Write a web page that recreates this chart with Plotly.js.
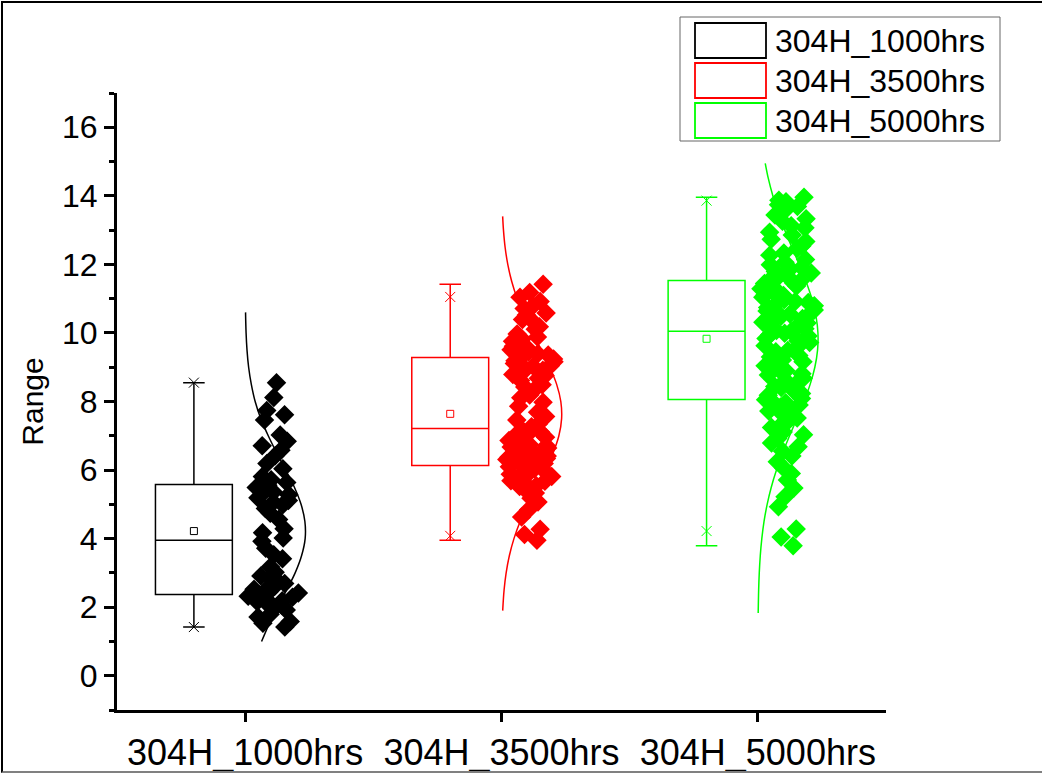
<!DOCTYPE html>
<html>
<head>
<meta charset="utf-8">
<script src="https://cdn.plot.ly/plotly-3.0.1.min.js"></script>
<style>
  html, body { margin: 0; padding: 0; background: #fff; }
  #wrap { position: relative; width: 1042px; height: 776px; }
  #chart { width: 1042px; height: 776px; }
  #frame { position: absolute; left: 1px; top: 1px; width: 1041px; height: 772px;
           border-top: 2px solid #000; border-left: 2px solid #000; border-bottom: 2px solid #808080;
           pointer-events: none; box-sizing: border-box; }
</style>
</head>
<body>
<div id="wrap"><div id="chart"></div><div id="frame"></div></div>
<script>
// ---------------- data ----------------
const categories = ['304H_1000hrs', '304H_3500hrs', '304H_5000hrs'];
const colors = ['#000000', '#FF0000', '#00FF00'];

// box statistics
const q1Values      = [2.37, 6.13, 8.06];
const medianValues  = [3.95, 7.21, 10.05];
const q3Values      = [5.58, 9.28, 11.53];
const minValues     = [1.42, 3.95, 3.79];
const maxValues     = [8.55, 11.42, 13.96];
const meanValues    = [4.22, 7.64, 9.83];
const p1Values      = [1.42, 4.08, 4.22];
const p99Values     = [8.55, 11.05, 13.86];

// raw sample points
const points1000 = [1.42, 1.53, 1.58, 1.71, 1.79, 1.92, 1.98, 2.06, 2.09, 2.16, 2.19, 2.24, 2.29, 2.32, 2.36,
  2.41, 2.44, 2.52, 2.54, 2.61, 2.69, 2.78, 2.86, 2.91, 3.02, 3.18, 3.41, 3.53, 3.72, 3.92,
  4.02, 4.17, 4.29, 4.56, 4.74, 4.88, 4.99, 5.06, 5.11, 5.19, 5.28, 5.36, 5.44, 5.49, 5.56,
  5.64, 5.72, 5.81, 6.04, 6.19, 6.42, 6.58, 6.71, 6.84, 7.02, 7.46, 7.61, 7.74, 8.12, 8.55];
const points3500 = [3.95, 4.12, 4.27, 4.63, 4.84, 5.07, 5.18, 5.33, 5.39, 5.52, 5.54, 5.61, 5.67, 5.69, 5.77, 5.81, 5.86, 5.88, 5.94, 5.97, 6.01, 6.04, 6.07, 6.1, 6.12,
  6.16, 6.19, 6.24, 6.29, 6.31, 6.34, 6.37, 6.41, 6.42, 6.47, 6.51, 6.54, 6.59, 6.64, 6.67, 6.71, 6.74, 6.81, 6.86, 6.89, 6.96, 7.01, 7.04, 7.11, 7.17,
  7.26, 7.34, 7.46, 7.56, 7.69, 7.86, 7.98, 8.11, 8.19, 8.31, 8.42, 8.49, 8.61, 8.68, 8.76, 8.79, 8.86, 8.91, 8.94, 9.02, 9.04, 9.11, 9.16, 9.19, 9.24,
  9.29, 9.36, 9.39, 9.44, 9.51, 9.54, 9.61, 9.64, 9.69, 9.76, 9.82, 9.88, 9.97, 10.11, 10.18, 10.32, 10.39, 10.52, 10.58, 10.71, 10.79, 10.92, 11.04, 11.18, 11.42];
const points5000 = [3.79, 4.05, 4.28, 4.93, 5.22, 5.48, 5.71, 5.9, 6.07, 6.24, 6.41, 6.55, 6.68, 6.79, 6.92, 7.03, 7.11, 7.24, 7.33, 7.41, 7.52, 7.58, 7.66, 7.72, 7.79, 7.84, 7.9, 7.96, 8.01, 8.05,
  8.09, 8.18, 8.23, 8.34, 8.41, 8.44, 8.57, 8.62, 8.68, 8.77, 8.81, 8.9, 8.93, 9.04, 9.07, 9.16, 9.21, 9.3, 9.34, 9.45, 9.49, 9.58, 9.63, 9.72, 9.77, 9.84, 9.91, 9.94, 9.99, 10.04,
  10.07, 10.12, 10.2, 10.22, 10.29, 10.31, 10.4, 10.42, 10.49, 10.55, 10.57, 10.64, 10.67, 10.74, 10.79, 10.82, 10.89, 10.92, 10.97, 11.04, 11.09, 11.12, 11.19, 11.22, 11.29, 11.34, 11.37, 11.44, 11.46, 11.52,
  11.55, 11.63, 11.67, 11.75, 11.79, 11.87, 11.91, 11.99, 12.06, 12.14, 12.27, 12.33, 12.46, 12.54, 12.67, 12.73, 12.86, 12.94, 13.07, 13.13, 13.26, 13.33, 13.44, 13.53, 13.58, 13.69, 13.74, 13.83, 13.87, 13.96];

// distribution curves: value (y) and curve width (in category units)
const curve1000Y = [1.0, 1.5, 2.0, 2.5, 3.0, 3.5, 4.0, 4.5, 5.0, 5.5, 6.0, 6.5, 7.0, 7.5, 8.0, 8.5, 9.0, 9.5, 10.0, 10.6];
const curve1000W = [0.064, 0.093, 0.127, 0.162, 0.195, 0.220, 0.234, 0.233, 0.218, 0.192, 0.158, 0.123, 0.090, 0.061, 0.039, 0.024, 0.0135, 0.0072, 0.0036, 0.0015];
const curve3500Y = [1.9, 2.5, 3.0, 3.5, 4.0, 4.5, 5.0, 5.5, 6.0, 6.5, 7.0, 7.5, 8.0, 8.5, 9.0, 9.5, 10.0, 10.5, 11.0, 11.5, 12.0, 12.5, 13.0, 13.4];
const curve3500W = [0.0047, 0.0101, 0.0181, 0.0306, 0.0486, 0.0727, 0.1026, 0.1363, 0.1706, 0.2013, 0.2238, 0.2345, 0.2314, 0.2152, 0.1886, 0.1557, 0.1211, 0.0888, 0.0613, 0.0399, 0.0245, 0.0141, 0.0077, 0.0045];
const curve5000Y = [1.83, 2.5, 3.0, 3.5, 4.0, 4.5, 5.0, 5.5, 6.0, 6.5, 7.0, 7.5, 8.0, 8.5, 9.0, 9.5, 10.0, 10.5, 11.0, 11.5, 12.0, 12.5, 13.0, 13.5, 14.0, 14.5, 14.95];
const curve5000W = [0.0014, 0.0032, 0.0056, 0.0095, 0.0155, 0.0242, 0.0364, 0.0524, 0.0727, 0.0968, 0.1238, 0.1522, 0.1798, 0.2040, 0.2224, 0.2330, 0.2345, 0.2267, 0.2106, 0.1880, 0.1612, 0.1328, 0.1052, 0.0800, 0.0585, 0.0411, 0.0289];

const yTickValues = [0, 2, 4, 6, 8, 10, 12, 14, 16];

// ---------------- layout helpers ----------------
const W = 1042, H = 776;
const M = { l: 117, r: 156, t: 93, b: 66 };
const plotW = W - M.l - M.r, plotH = H - M.t - M.b;
const px = x => (x - M.l) / plotW;          // pixel -> paper x
const py = y => (H - M.b - y) / plotH;      // pixel -> paper y
const FONT = 'Arial, "Liberation Sans", sans-serif';

const pointSets = [points1000, points3500, points5000];
const curveYs = [curve1000Y, curve3500Y, curve5000Y];
const curveWs = [curve1000W, curve3500W, curve5000W];
const boxShift = -0.2;

const traces = [];
categories.forEach((name, i) => {
  const pos = i + 1;
  // distribution curve
  traces.push({
    type: 'scatter', mode: 'lines',
    x: curveWs[i].map(w => pos + w), y: curveYs[i],
    line: { color: colors[i], width: 1.5, shape: 'spline' },
    hoverinfo: 'skip', showlegend: false
  });
  // box
  traces.push({
    type: 'box', name: name,
    x: [pos + boxShift],
    q1: [q1Values[i]], median: [medianValues[i]], q3: [q3Values[i]],
    lowerfence: [minValues[i]], upperfence: [maxValues[i]],
    width: 0.3, whiskerwidth: 0.28, boxpoints: false,
    line: { color: colors[i], width: 1.5 },
    fillcolor: 'rgba(0,0,0,0)',
    hoverinfo: 'skip', showlegend: false
  });
  // mean marker
  traces.push({
    type: 'scatter', mode: 'markers',
    x: [pos + boxShift], y: [meanValues[i]],
    marker: { symbol: 'square-open', size: 7, color: colors[i], line: { width: 1, color: colors[i] } },
    hoverinfo: 'skip', showlegend: false
  });
  // 1% / 99% markers
  traces.push({
    type: 'scatter', mode: 'markers',
    x: [pos + boxShift, pos + boxShift], y: [p1Values[i], p99Values[i]],
    marker: { symbol: 'x-thin-open', size: 10, color: colors[i], line: { width: 1, color: colors[i] } },
    hoverinfo: 'skip', showlegend: false
  });
});
// data points (on an overlaying subplot so they sit above the curves)
categories.forEach((name, i) => {
  traces.push({
    type: 'box', name: name + ' points',
    x0: i + 1, y: pointSets[i],
    width: 0.3, boxpoints: 'all', jitter: 0.72, pointpos: 0.78,
    marker: { symbol: 'diamond', size: 15, color: colors[i], line: { width: 0 } },
    line: { width: 0, color: 'rgba(0,0,0,0)' },
    fillcolor: 'rgba(0,0,0,0)',
    xaxis: 'x2', yaxis: 'y2',
    hoverinfo: 'skip', showlegend: false
  });
});

// legend drawn with shapes + annotations
const shapes = [{
  type: 'rect', xref: 'paper', yref: 'paper',
  x0: px(680), x1: px(1000), y0: py(141), y1: py(17),
  line: { color: '#666666', width: 1 }, fillcolor: 'rgba(0,0,0,0)'
}];
const annotations = [];
const rowTop = [23, 63, 103];
categories.forEach((name, i) => {
  shapes.push({
    type: 'rect', xref: 'paper', yref: 'paper',
    x0: px(695), x1: px(766), y0: py(rowTop[i] + 35), y1: py(rowTop[i]),
    line: { color: colors[i], width: 1.8 }, fillcolor: 'rgba(0,0,0,0)'
  });
  annotations.push({
    xref: 'paper', yref: 'paper', x: px(773), y: py(rowTop[i] + 18),
    xanchor: 'left', yanchor: 'middle', showarrow: false,
    text: name, font: { family: FONT, size: 32, color: '#000' }
  });
});

const layout = {
  width: W, height: H,
  margin: M,
  paper_bgcolor: '#ffffff', plot_bgcolor: '#ffffff',
  showlegend: false,
  boxmode: 'overlay',
  xaxis: {
    range: [0.5, 3.5], tickvals: [1, 2, 3], ticktext: categories,
    showline: true, linecolor: '#000', linewidth: 3,
    ticks: 'outside', ticklen: 9, tickwidth: 3, tickcolor: '#000',
    showgrid: false, zeroline: false,
    tickfont: { family: FONT, size: 36, color: '#000' }
  },
  yaxis: {
    range: [-1, 17], tickvals: yTickValues,
    showline: true, linecolor: '#000', linewidth: 3,
    ticks: 'outside', ticklen: 10, tickwidth: 3, tickcolor: '#000',
    minor: { dtick: 1, ticks: 'outside', ticklen: 5, tickwidth: 3, tickcolor: '#000', showgrid: false },
    showgrid: false, zeroline: false,
    tickfont: { family: FONT, size: 32, color: '#000' },
    title: { text: 'Range', font: { family: FONT, size: 30, color: '#000' }, standoff: 10 }
  },
  xaxis2: { overlaying: 'x', range: [0.5, 3.5], visible: false, anchor: 'y2' },
  yaxis2: { overlaying: 'y', range: [-1, 17], visible: false, anchor: 'x2' },
  shapes: shapes,
  annotations: annotations
};

Plotly.newPlot('chart', traces, layout, { staticPlot: true, displayModeBar: false });
</script>
</body>
</html>
